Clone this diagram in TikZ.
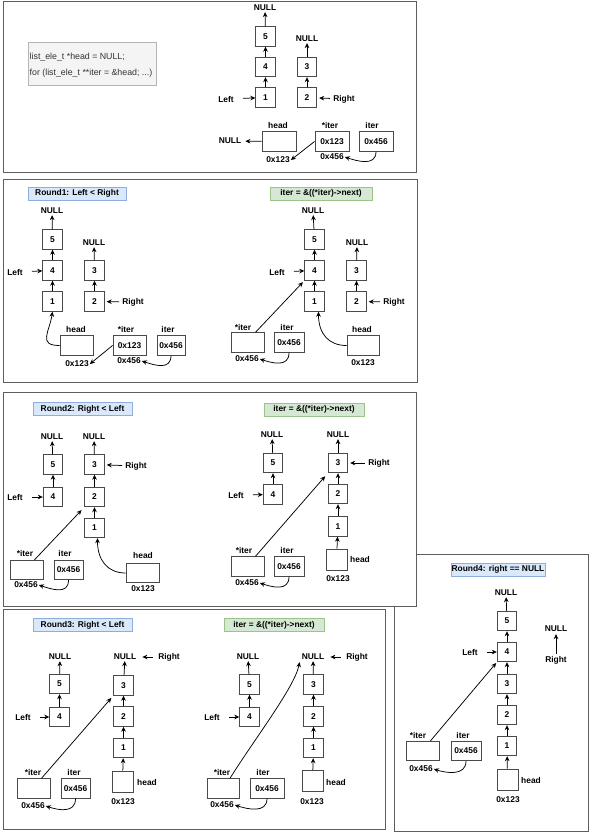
\documentclass[tikz,border=0pt]{standalone}
\usepackage{fontspec}
\setmainfont{Liberation Sans}
\usetikzlibrary{arrows.meta}
\definecolor{frameC}{HTML}{5E5E5E}
\definecolor{boxC}{HTML}{4A4A4A}
\definecolor{codeD}{HTML}{B5B5B5}
\definecolor{codeF}{HTML}{F4F4F4}
\definecolor{codeT}{HTML}{333333}
\definecolor{blueD}{HTML}{8FAEDB}
\definecolor{blueF}{HTML}{DAE8FC}
\definecolor{greenD}{HTML}{9CC48A}
\definecolor{greenF}{HTML}{D5E8D4}
\tikzset{
  lab/.style={font=\fontsize{8.4}{9}\selectfont\bfseries, inner sep=1pt},
  nb/.style={lab, draw=boxC, line width=0.9pt, fill=white, minimum width=19.5pt, minimum height=19.5pt, inner sep=0pt},
  vb/.style={lab, draw=boxC, line width=0.9pt, fill=white, minimum height=19.5pt, inner sep=0pt},
  sq/.style={draw=boxC, line width=0.9pt, fill=white, minimum width=21pt, minimum height=21pt, inner sep=0pt},
  ar/.style={-{Stealth[length=5pt,width=4.6pt]}, line width=0.75pt},
  panel/.style={draw=frameC, line width=1pt, fill=white},
  tb/.style={lab, draw=blueD, fill=blueF, minimum height=13pt, inner sep=0pt},
  tg/.style={lab, draw=greenD, fill=greenF, minimum height=13pt, inner sep=0pt},
  codetxt/.style={font=\fontsize{8.8}{10}\selectfont, text=codeT, inner sep=0pt, anchor=west},
}
\begin{document}
\begin{tikzpicture}[x=1pt,y=-1pt]
\useasboundingbox (0,0) rectangle (590,832);
\fill[white] (0,0) rectangle (590,832);

% ===== Panel 0 =====
\draw[panel] (3,2) rectangle (416,172);
\node[draw=codeD, fill=codeF, minimum width=128pt, minimum height=43pt, anchor=north west, inner sep=0pt] (code) at (28,42) {};
\node[codetxt] (code1) at (29.5,57) {list\_ele\_t *head = NULL;};
\node[codetxt] (code2) at (29.5,73) {for (list\_ele\_t **iter = \&head; ...)};
\node[lab] (aN1) at (265,8) {NULL};
\node[nb] (a5) at (265.5,36.5) {5};
\node[nb] (a4) at (265.5,67) {4};
\node[nb] (a1) at (265.5,97.5) {1};
\node[lab] (aN2) at (307,39) {NULL};
\node[nb] (a3) at (307,67) {3};
\node[nb] (a2) at (307,97.5) {2};
\node[lab] (aL) at (226,99) {Left};
\node[lab] (aR) at (344,99) {Right};
\node[vb, minimum width=34pt] (ahead) at (279,141.5) {};
\node[lab] (aheadL) at (278,125) {head};
\node[lab] (aN3) at (230,141) {NULL};
\node[vb, minimum width=34pt] (ais) at (332,141.5) {0x123};
\node[lab] (aisL) at (330,125) {*iter};
\node[vb, minimum width=34pt] (ait) at (376,141.5) {0x456};
\node[lab] (aitL) at (372,125) {iter};
\node[lab] (aA) at (278,160) {0x123};
\node[lab] (aB) at (332,157) {0x456};
\draw[ar] (a5) -- (aN1);
\draw[ar] (a4) -- (a5);
\draw[ar] (a1) -- (a4);
\draw[ar] (a3) -- (aN2);
\draw[ar] (a2) -- (a3);
\draw[ar, shorten <=8pt] (aL) -- (a1);
\draw[ar, shorten <=2pt, shorten >=2pt] (aR) -- (a2);
\draw[ar, shorten >=3pt] (ahead) -- (aN3);
\draw[ar] (ais.west) -- (aA.east);
\draw[ar] (ait.south) .. controls +(0,15) and +(12,4) .. (aB.east);

% ===== Panel 1 =====
\draw[panel] (3,179) rectangle (417,382);
\node[tb, minimum width=98pt] (b0) at (77,193.5) {Round1: Left < Right};
\node[lab] (bN1) at (52,211) {NULL};
\node[nb] (b5) at (52.5,239.5) {5};
\node[nb] (b4) at (52.5,270.5) {4};
\node[nb] (b1) at (52.5,301.5) {1};
\node[lab] (bL) at (15,272) {Left};
\node[lab] (bN2) at (94,243) {NULL};
\node[nb] (b3) at (94.5,270.5) {3};
\node[nb] (b2) at (94.5,301.5) {2};
\node[lab] (bR) at (133,302) {Right};
\node[vb, minimum width=33pt] (bhead) at (76.5,345.5) {};
\node[lab] (bheadL) at (76,329) {head};
\node[vb, minimum width=33pt] (bis) at (129.5,345.5) {0x123};
\node[lab] (bisL) at (126,329) {*iter};
\node[vb, minimum width=28pt] (bit) at (171,345.5) {0x456};
\node[lab] (bitL) at (168,329) {iter};
\node[lab] (bA) at (77,364) {0x123};
\node[lab] (bB) at (129,361) {0x456};
\draw[ar] (b5) -- (bN1);
\draw[ar] (b4) -- (b5);
\draw[ar] (b1) -- (b4);
\draw[ar] (b3) -- (bN2);
\draw[ar] (b2) -- (b3);
\draw[ar, shorten <=8pt] (bL) -- (b4);
\draw[ar, shorten <=2pt, shorten >=2pt] (bR) -- (b2);
\draw[ar] (bhead.west) .. controls +(-22,0) and +(-3,20) .. (b1.south);
\draw[ar] (bis.west) -- (bA.east);
\draw[ar] (bit.south) .. controls +(0,15) and +(12,4) .. (bB.east);

\node[tg, minimum width=102pt] (c0) at (321,193.5) {iter = \&((*iter)->next)};
\node[lab] (cN1) at (313,211) {NULL};
\node[nb] (c5) at (314.5,239.5) {5};
\node[nb] (c4) at (314.5,270.5) {4};
\node[nb] (c1) at (314.5,301.5) {1};
\node[lab] (cL) at (277,272) {Left};
\node[lab] (cN2) at (357,243) {NULL};
\node[nb] (c3) at (356.5,270.5) {3};
\node[nb] (c2) at (356.5,301.5) {2};
\node[lab] (cR) at (394,302) {Right};
\node[vb, minimum width=33pt] (cis) at (247.5,342.5) {};
\node[lab] (cisL) at (243,327) {*iter};
\node[vb, minimum width=30pt] (cit) at (289,342.5) {0x456};
\node[lab] (citL) at (287,327) {iter};
\node[lab] (cB) at (247,359) {0x456};
\node[vb, minimum width=32pt] (chead) at (363,345.5) {};
\node[lab] (cheadL) at (362,329) {head};
\node[lab] (cA) at (363,363) {0x123};
\draw[ar] (c5) -- (cN1);
\draw[ar] (c4) -- (c5);
\draw[ar] (c1) -- (c4);
\draw[ar] (c3) -- (cN2);
\draw[ar] (c2) -- (c3);
\draw[ar, shorten <=8pt] (cL) -- (c4);
\draw[ar, shorten <=2pt, shorten >=2pt] (cR) -- (c2);
\draw[ar, shorten >=2pt] ([xshift=8pt]cis.north) -- (c4.south west);
\draw[ar] (chead.west) .. controls +(-18,0) and +(0,22) .. ([xshift=4pt]c1.south);
\draw[ar] (cit.south) .. controls +(0,15) and +(12,4) .. (cB.east);

% ===== Panel 4 (drawn beneath panel 2) =====
\draw[panel] (394,554) rectangle (588,831);
\node[tb, minimum width=94pt] (h0) at (498,569.5) {Round4: right == NULL};
\node[lab] (hN1) at (506,593) {NULL};
\node[nb] (h5) at (507,621) {5};
\node[nb] (h4) at (507,652) {4};
\node[nb] (h3) at (507,684) {3};
\node[nb] (h2) at (507,715) {2};
\node[nb] (h1) at (507,746) {1};
\node[lab] (hL) at (470,652) {Left};
\node[lab] (hN2) at (556,629) {NULL};
\node[lab] (hR) at (556,660) {Right};
\node[sq] (hhead) at (507.5,779.5) {};
\node[lab] (hheadL) at (531,780) {head};
\node[lab] (hA) at (508,800) {0x123};
\node[vb, minimum width=33pt] (his) at (422.5,751) {};
\node[lab] (hisL) at (418,735) {*iter};
\node[vb, minimum width=30pt] (hit) at (466,751) {0x456};
\node[lab] (hitL) at (463,735) {iter};
\node[lab] (hB) at (421,769) {0x456};
\draw[ar] (h5) -- (hN1);
\draw[ar] (h4) -- (h5);
\draw[ar] (h3) -- (h4);
\draw[ar] (h2) -- (h3);
\draw[ar] (h1) -- (h2);
\draw[ar] (hhead) -- (h1);
\draw[ar, shorten <=8pt] (hL) -- (h4);
\draw[ar, shorten <=1pt, shorten >=1pt] (hR) -- (hN2);
\draw[ar, shorten >=1pt] ([xshift=8pt]his.north) -- (h4.south west);
\draw[ar] (hit.south) .. controls +(0,15) and +(12,4) .. (hB.east);

% ===== Panel 2 =====
\draw[panel] (3,392) rectangle (416,606);
\node[tb, minimum width=99pt] (d0) at (82.5,409) {Round2: Right < Left};
\node[lab] (dN1) at (52,437) {NULL};
\node[nb] (d5) at (53,464.5) {5};
\node[nb] (d4) at (53,497) {4};
\node[lab] (dL) at (15,497) {Left};
\node[lab] (dN2) at (94,437) {NULL};
\node[nb] (d3) at (94.5,464.5) {3};
\node[nb] (d2) at (94.5,497) {2};
\node[nb] (d1) at (94.5,528) {1};
\node[lab] (dR) at (136,466) {Right};
\node[vb, minimum width=33pt] (dis) at (26.5,570) {};
\node[lab] (disL) at (25,553) {*iter};
\node[vb, minimum width=29pt] (dit) at (68.5,570) {0x456};
\node[lab] (ditL) at (65,553) {iter};
\node[lab] (dB) at (26,585) {0x456};
\node[vb, minimum width=33pt] (dhead) at (142.5,573) {};
\node[lab] (dheadL) at (143,555) {head};
\node[lab] (dA) at (143,589) {0x123};
\draw[ar] (d5) -- (dN1);
\draw[ar] (d4) -- (d5);
\draw[ar] (d3) -- (dN2);
\draw[ar] (d2) -- (d3);
\draw[ar] (d1) -- (d2);
\draw[ar, shorten <=8pt] (dL) -- (d4);
\draw[ar, shorten <=2pt, shorten >=2pt] (dR) -- (d3);
\draw[ar, shorten >=4pt] ([xshift=8pt]dis.north) -- (d2.south west);
\draw[ar] (dhead.west) .. controls +(-18,0) and +(0,22) .. ([xshift=3pt]d1.south);
\draw[ar] (dit.south) .. controls +(0,15) and +(12,4) .. (dB.east);

\node[tg, minimum width=100pt] (e0) at (314,409.5) {iter = \&((*iter)->next)};
\node[lab] (eN1) at (272,435) {NULL};
\node[nb] (e5) at (273,463) {5};
\node[nb] (e4) at (273,494.5) {4};
\node[lab] (eL) at (236,495) {Left};
\node[lab] (eN2) at (338,435) {NULL};
\node[nb] (e3) at (338,463) {3};
\node[nb] (e2) at (338,494) {2};
\node[nb] (e1) at (338,526.5) {1};
\node[lab] (eR) at (379,463) {Right};
\node[sq] (ehead) at (336.5,559.5) {};
\node[lab] (eheadL) at (360,559) {head};
\node[lab] (eA) at (338,579) {0x123};
\node[vb, minimum width=33pt] (eis) at (247.5,566.5) {};
\node[lab] (eisL) at (244,550) {*iter};
\node[vb, minimum width=30pt] (eit) at (289,566.5) {0x456};
\node[lab] (eitL) at (287,550) {iter};
\node[lab] (eB) at (247,583) {0x456};
\draw[ar] (e5) -- (eN1);
\draw[ar] (e4) -- (e5);
\draw[ar] (e3) -- (eN2);
\draw[ar] (e2) -- (e3);
\draw[ar] (e1) -- (e2);
\draw[ar] (ehead) -- (e1);
\draw[ar, shorten <=8pt] (eL) -- (e4);
\draw[ar, shorten <=2pt, shorten >=2pt] (eR) -- (e3);
\draw[ar, shorten >=4pt] ([xshift=8pt]eis.north) -- (e3.south west);
\draw[ar] (eit.south) .. controls +(0,15) and +(12,4) .. (eB.east);

% ===== Panel 3 =====
\draw[panel] (3,609) rectangle (385,829);
\node[tb, minimum width=99pt] (f0) at (82.5,625) {Round3: Right < Left};
\node[lab] (fN1) at (60,657) {NULL};
\node[nb] (f5) at (59.5,684) {5};
\node[nb] (f4) at (59.5,717) {4};
\node[lab] (fL) at (23,717) {Left};
\node[lab] (fN2) at (125,657) {NULL};
\node[lab] (fR) at (169,657) {Right};
\node[nb] (f3) at (123.5,685.5) {3};
\node[nb] (f2) at (123.5,716.5) {2};
\node[nb] (f1) at (123.5,748) {1};
\node[sq] (fhead) at (122.5,781.5) {};
\node[lab] (fheadL) at (147,782) {head};
\node[lab] (fA) at (123,802) {0x123};
\node[vb, minimum width=33pt] (fis) at (33.5,788.5) {};
\node[lab] (fisL) at (33,772) {*iter};
\node[vb, minimum width=29pt] (fit) at (75.5,788.5) {0x456};
\node[lab] (fitL) at (74,772) {iter};
\node[lab] (fB) at (33,806) {0x456};
\draw[ar] (f5) -- (fN1);
\draw[ar] (f4) -- (f5);
\draw[ar] (f3) -- (fN2);
\draw[ar] (f2) -- (f3);
\draw[ar] (f1) -- (f2);
\draw[ar] (fhead) -- (f1);
\draw[ar, shorten <=8pt] (fL) -- (f4);
\draw[ar, shorten <=4pt, shorten >=5pt] (fR) -- (fN2);
\draw[ar, shorten >=3pt] ([xshift=8pt]fis.north) -- (f3.south west);
\draw[ar] (fit.south) .. controls +(0,15) and +(12,4) .. (fB.east);

\node[tg, minimum width=100pt] (g0) at (274,625) {iter = \&((*iter)->next)};
\node[lab] (gN1) at (248,657) {NULL};
\node[nb] (g5) at (249.5,684.5) {5};
\node[nb] (g4) at (249.5,717) {4};
\node[lab] (gL) at (212,717) {Left};
\node[lab] (gN2) at (313,657) {NULL};
\node[lab] (gR) at (357,657) {Right};
\node[nb] (g3) at (313.5,684.5) {3};
\node[nb] (g2) at (313.5,716.5) {2};
\node[nb] (g1) at (313.5,748) {1};
\node[sq] (ghead) at (312.5,781) {};
\node[lab] (gheadL) at (336,782) {head};
\node[lab] (gA) at (312,802) {0x123};
\node[vb, minimum width=32pt] (gis) at (223,788.5) {};
\node[lab] (gisL) at (222,772) {*iter};
\node[vb, minimum width=34pt] (git) at (267,788.5) {0x456};
\node[lab] (gitL) at (263,772) {iter};
\node[lab] (gB) at (222,805) {0x456};
\draw[ar] (g5) -- (gN1);
\draw[ar] (g4) -- (g5);
\draw[ar] (g3) -- (gN2);
\draw[ar] (g2) -- (g3);
\draw[ar] (g1) -- (g2);
\draw[ar] (ghead) -- (g1);
\draw[ar, shorten <=8pt] (gL) -- (g4);
\draw[ar, shorten <=4pt, shorten >=5pt] (gR) -- (gN2);
\draw[ar] ([xshift=7pt]gis.north) .. controls +(25,-40) and +(-5,25) .. ([shift={(-1pt,-1pt)}]gN2.south west);
\draw[ar] (git.south) .. controls +(0,15) and +(12,4) .. (gB.east);
\end{tikzpicture}
\end{document}
